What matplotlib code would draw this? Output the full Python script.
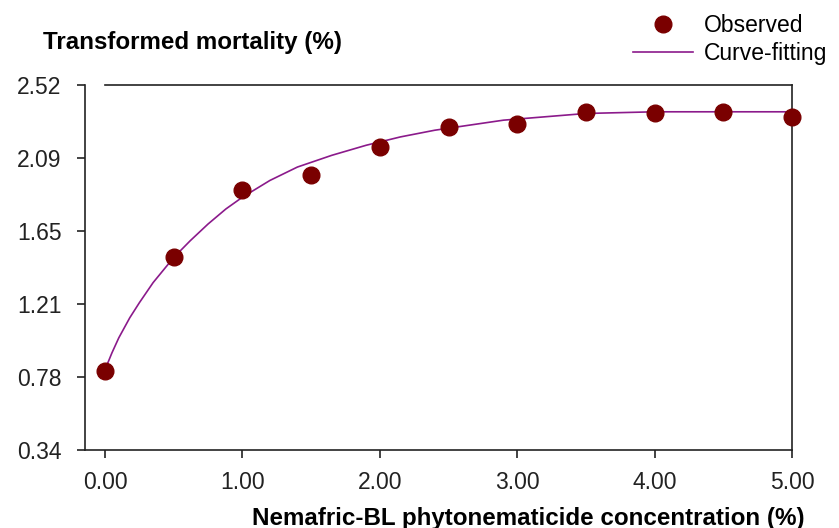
import matplotlib
matplotlib.use('Agg')
import matplotlib.pyplot as plt
import numpy as np

plt.rcParams['font.family'] = ['Liberation Sans', 'DejaVu Sans']

# observed points
conc = [0.0, 0.5, 1.0, 1.5, 2.0, 2.5, 3.0, 3.5, 4.0, 4.5, 5.0]
mortality = [0.81, 1.49, 1.89, 1.98, 2.15, 2.27, 2.29, 2.36, 2.35, 2.36, 2.33]

# fitted curve
fit_x = [0.0, 0.05, 0.1, 0.18, 0.25, 0.35, 0.5, 0.62, 0.75, 0.88, 1.0, 1.2, 1.4,
         1.65, 1.9, 2.15, 2.4, 2.65, 2.9, 3.2, 3.5, 4.0, 4.5, 5.0]
fit_y = [0.82, 0.92, 1.01, 1.13, 1.22, 1.34, 1.49, 1.59, 1.69, 1.78, 1.85, 1.95, 2.03,
         2.10, 2.16, 2.21, 2.25, 2.28, 2.31, 2.33, 2.35, 2.36, 2.36, 2.36]

yticks = [0.34, 0.776, 1.212, 1.648, 2.084, 2.52]
ytick_labels = ['0.34', '0.78', '1.21', '1.65', '2.09', '2.52']
xticks = [0, 1, 2, 3, 4, 5]
xtick_labels = ['0.00', '1.00', '2.00', '3.00', '4.00', '5.00']

fig = plt.figure(figsize=(8.39, 5.28), dpi=100)
ax = fig.add_axes([0.1013, 0.1477, 0.8427, 0.6913])

line, = ax.plot(fit_x, fit_y, color='#8b1a8b', lw=1.2, label='Curve-fitting', zorder=2)
pts, = ax.plot(conc, mortality, 'o', color='#7a0000', ms=12, label='Observed',
               clip_on=False, zorder=3, linestyle='none')

ax.set_xlim(-0.146, 5.0)
ax.set_ylim(0.34, 2.52)
ax.set_xticks(xticks)
ax.set_xticklabels(xtick_labels)
ax.set_yticks(yticks)
ax.set_yticklabels(ytick_labels)
ax.tick_params(axis='both', direction='out', length=6, width=1.2, labelsize=16.5,
               colors='#222222', pad=9)
ax.tick_params(axis='y', pad=11)

for s in ax.spines.values():
    s.set_linewidth(1.2)
    s.set_color('#222222')
ax.spines['top'].set_bounds(0, 5)

fig.text(528 / 839, 1 - 518 / 528, 'Nemafric-BL phytonematicide concentration (%)',
         fontsize=17.4, fontweight='bold', va='center', ha='center')
fig.text(43 / 839, 1 - 43 / 528, 'Transformed mortality (%)', fontsize=17.4,
         fontweight='bold', va='center', ha='left')

fig.legend(handles=[pts, line], loc='upper right', bbox_to_anchor=(1.0, 0.995),
           frameon=False, fontsize=16.5, handlelength=2.6, handletextpad=0.5,
           labelspacing=0.2, borderaxespad=0.1)

fig.savefig('out.png', dpi=100)
